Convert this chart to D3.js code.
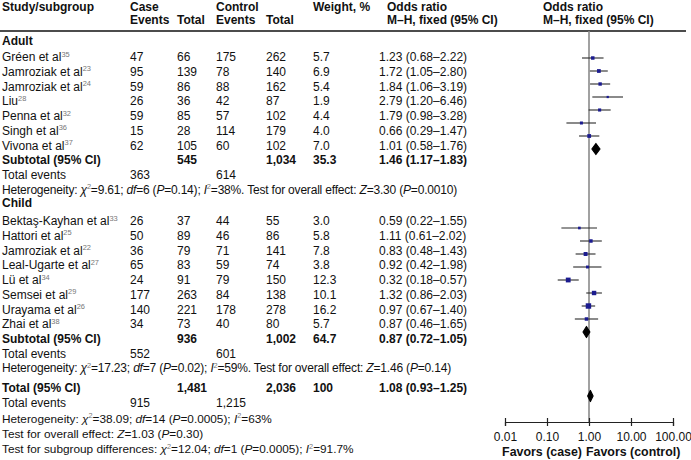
<!DOCTYPE html>
<html><head><meta charset="utf-8">
<script src="https://cdn.jsdelivr.net/npm/d3@7"></script>
<style>
html,body{margin:0;padding:0;background:#fff;}
svg{display:block;font-family:"Liberation Sans",Arial,sans-serif;}
</style></head>
<body><svg id="c" width="691" height="460"></svg>
<script>
// ---------- data ----------
const adultStudies = ["Gréen et al", "Jamroziak et al", "Jamroziak et al", "Liu", "Penna et al", "Singh et al", "Vivona et al"];
const adultRefs = ["35", "23", "24", "28", "32", "36", "37"];
const adultCaseEvents = [47, 95, 59, 26, 59, 15, 62];
const adultCaseTotal = [66, 139, 86, 36, 85, 28, 105];
const adultCtrlEvents = [175, 78, 88, 42, 57, 114, 60];
const adultCtrlTotal = [262, 140, 162, 87, 102, 179, 102];
const adultWeight = [5.7, 6.9, 5.4, 1.9, 4.4, 4.0, 7.0];
const adultOR = [1.23, 1.72, 1.84, 2.79, 1.79, 0.66, 1.01];
const adultLo = [0.68, 1.05, 1.06, 1.20, 0.98, 0.29, 0.58];
const adultHi = [2.22, 2.80, 3.19, 6.46, 3.28, 1.47, 1.76];

const childStudies = ["Bektaş-Kayhan et al", "Hattori et al", "Jamroziak et al", "Leal-Ugarte et al", "Lü et al", "Semsei et al", "Urayama et al", "Zhai et al"];
const childRefs = ["33", "25", "22", "27", "34", "29", "26", "38"];
const childCaseEvents = [26, 50, 36, 65, 24, 177, 140, 34];
const childCaseTotal = [37, 89, 79, 83, 91, 263, 221, 73];
const childCtrlEvents = [44, 46, 71, 59, 79, 84, 178, 40];
const childCtrlTotal = [55, 86, 141, 74, 150, 138, 278, 80];
const childWeight = [3.0, 5.8, 7.8, 3.8, 12.3, 10.1, 16.2, 5.7];
const childOR = [0.59, 1.11, 0.83, 0.92, 0.32, 1.32, 0.97, 0.87];
const childLo = [0.22, 0.61, 0.48, 0.42, 0.18, 0.86, 0.67, 0.46];
const childHi = [1.55, 2.02, 1.43, 1.98, 0.57, 2.03, 1.40, 1.65];

const subtotalLabels = ["Subtotal (95% CI)", "Subtotal (95% CI)", "Total (95% CI)"];
const pooledCaseTotal = ["545", "936", "1,481"];
const pooledCtrlTotal = ["1,034", "1,002", "2,036"];
const pooledWeight = ["35.3", "64.7", "100"];
const pooledOR = [1.46, 0.87, 1.08];
const pooledLo = [1.17, 0.72, 0.93];
const pooledHi = [1.83, 1.05, 1.25];
const pooledCaseEvents = ["363", "552", "915"];
const pooledCtrlEvents = ["614", "601", "1,215"];

const hetAdult = "Heterogeneity: _χ_^2^=9.61; _df_=6 (_P_=0.14); _I_^2^=38%. Test for overall effect: _Z_=3.30 (_P_=0.0010)";
const hetChild = "Heterogeneity: _χ_^2^=17.23; _df_=7 (_P_=0.02); _I_^2^=59%. Test for overall effect: _Z_=1.46 (_P_=0.14)";
const footLines = [
  "Heterogeneity: _χ_^2^=38.09; _df_=14 (_P_=0.0005); _I_^2^=63%",
  "Test for overall effect: _Z_=1.03 (_P_=0.30)",
  "Test for subgroup differences: _χ_^2^=12.04; _df_=1 (_P_=0.0005); _I_^2^=91.7%"
];
const axisTicks = [0.01, 0.1, 1, 10, 100];
const axisTickLabels = ["0.01", "0.10", "1.00", "10.00", "100.00"];

// ---------- layout ----------
const svg = d3.select("#c");
const FS = 12;
const col = {name: 2, ce: 130, ct: 177, ke: 216, kt: 266, w: 313, or: 379};
const x = d3.scaleLog().domain([0.01, 100]).range([505, 673]);
const fmt = v => v.toFixed(2);

const rowStep = 14.7;

function addRich(sel, str, size) {
  const parts = str.split(/(_[^_]+_|\^[^^]+\^)/).filter(s => s.length);
  let pendingDy = 0;
  const sh = size * 0.38;
  parts.forEach(p => {
    const t = sel.append("tspan");
    if (p[0] === "_") {
      t.text(p.slice(1, -1)).attr("font-style", "italic");
      if (pendingDy) { t.attr("dy", pendingDy); pendingDy = 0; }
    } else if (p[0] === "^") {
      t.text(p.slice(1, -1)).attr("font-size", size * 0.62).attr("dy", -sh).attr("fill", "#777");
      pendingDy = sh;
    } else {
      t.text(p);
      if (pendingDy) { t.attr("dy", pendingDy); pendingDy = 0; }
    }
  });
}

function txt(xp, yc, s, opts = {}) {
  const size = opts.size || FS;
  const t = svg.append("text").attr("x", xp).attr("y", yc + size * 0.36)
    .attr("font-size", size).attr("fill", "#111");
  if (opts.bold) t.attr("font-weight", "bold");
  if (opts.anchor) t.attr("text-anchor", opts.anchor);
  addRich(t, s, size);
  if (opts.width) {
    const nat = t.node().getComputedTextLength();
    const n = t.text().length;
    if (nat > 0 && n > 1) t.attr("letter-spacing", ((opts.width - nat) / n).toFixed(3));
  }
  return t;
}

// header
txt(col.name, 7, "Study/subgroup", {bold: true});
txt(col.ce, 7, "Case", {bold: true});
txt(col.ce, 20, "Events", {bold: true});
txt(col.ct, 20, "Total", {bold: true});
txt(col.ke, 7, "Control", {bold: true});
txt(col.ke, 20, "Events", {bold: true});
txt(col.kt, 20, "Total", {bold: true});
txt(col.w, 7, "Weight, %", {bold: true});
txt(387, 7, "Odds ratio", {bold: true});
txt(387, 20, "M–H, fixed (95% CI)", {bold: true});
txt(543, 7, "Odds ratio", {bold: true});
txt(543, 20, "M–H, fixed (95% CI)", {bold: true});
svg.append("line").attr("x1", 0).attr("x2", 686).attr("y1", 31).attr("y2", 31)
  .attr("stroke", "#111").attr("stroke-width", 1.3);

svg.append("line").attr("x1", x(1)).attr("x2", x(1)).attr("y1", 31).attr("y2", 422)
  .attr("stroke", "#8a8a8a").attr("stroke-width", 1.6);

const plotStep = 13;
const plotAdultY = i => 58 + i * plotStep;
const plotChildY = i => 228 + i * plotStep;
const plotTotalY = 396;

function studyBlock(startY, names, refs, ce, ct, ke, kt, w, or, lo, hi, plotY) {
  names.forEach((n, i) => {
    const y = startY + i * rowStep;
    txt(col.name, y, n + "^" + refs[i] + "^");
    txt(col.ce, y, String(ce[i]));
    txt(col.ct, y, String(ct[i]));
    txt(col.ke, y, String(ke[i]));
    txt(col.kt, y, String(kt[i]));
    txt(col.w, y, w[i].toFixed(1));
    txt(col.or, y, `${fmt(or[i])} (${fmt(lo[i])}–${fmt(hi[i])})`);
    const py = plotY(i);
    svg.append("line").attr("x1", x(lo[i])).attr("x2", x(hi[i])).attr("y1", py).attr("y2", py)
      .attr("stroke", "#2a2a2a").attr("stroke-width", 1.1);
    const s = 1.2 * Math.sqrt(w[i]) + 0.6;
    svg.append("rect").attr("x", x(or[i]) - s / 2).attr("y", py - s / 2)
      .attr("width", s).attr("height", s).attr("fill", "#1b1b8f");
  });
}

function pooledBlock(k, y, py, hetStr, hetWidth) {
  txt(col.name, y, subtotalLabels[k], {bold: true});
  txt(col.ct, y, pooledCaseTotal[k], {bold: true});
  txt(col.kt, y, pooledCtrlTotal[k], {bold: true});
  txt(col.w, y, pooledWeight[k], {bold: true});
  txt(col.or, y, `${fmt(pooledOR[k])} (${fmt(pooledLo[k])}–${fmt(pooledHi[k])})`, {bold: true});
  const y2 = y + rowStep;
  txt(col.name, y2, "Total events");
  txt(col.ce, y2, pooledCaseEvents[k]);
  txt(col.ke, y2, pooledCtrlEvents[k]);
  if (hetStr) txt(col.name, y2 + rowStep, hetStr, {width: hetWidth});
  const h = 5.5;
  const d = `M${x(pooledLo[k])},${py} L${x(pooledOR[k])},${py - h} L${x(pooledHi[k])},${py} L${x(pooledOR[k])},${py + h} Z`;
  svg.append("path").attr("d", d).attr("fill", "#000").attr("stroke", "#000").attr("stroke-width", 1.2)
    .attr("stroke-linejoin", "round");
}

// Adult
txt(col.name, 41, "Adult", {bold: true});
studyBlock(57, adultStudies, adultRefs, adultCaseEvents, adultCaseTotal, adultCtrlEvents, adultCtrlTotal,
  adultWeight, adultOR, adultLo, adultHi, plotAdultY);
pooledBlock(0, 57 + 7 * rowStep, plotAdultY(7), hetAdult, 455);

// Child
txt(col.name, 203, "Child", {bold: true});
studyBlock(221, childStudies, childRefs, childCaseEvents, childCaseTotal, childCtrlEvents, childCtrlTotal,
  childWeight, childOR, childLo, childHi, plotChildY);
pooledBlock(1, 221 + 8 * rowStep, plotChildY(8), hetChild, 449);

// Total
const totalY = 388;
pooledBlock(2, totalY, plotTotalY, null);
footLines.forEach((s, i) => txt(col.name, totalY + (2 + i) * 15.2, s, {size: 11.8}));

// axis
const axisY = 422;
const ax = svg.append("g").attr("transform", `translate(0,${axisY})`)
  .call(d3.axisBottom(x).tickValues(axisTicks).tickFormat((d, i) => axisTickLabels[i]).tickSizeOuter(0).tickSize(4));
ax.select(".domain").attr("stroke", "#222").attr("stroke-width", 1.2);
ax.selectAll(".tick line").attr("stroke", "#222").attr("y1", -4).attr("y2", 4).attr("stroke-width", 1.2);
ax.selectAll(".tick text").attr("font-size", FS).attr("fill", "#111")
  .attr("font-family", "'Liberation Sans',Arial,sans-serif").attr("dy", "0.71em").attr("y", 10);
txt(x(1) - 7, 452, "Favors (case)", {bold: true, anchor: "end", size: 12.4});
txt(x(1) - 3, 452, "Favors (control)", {bold: true, size: 12.4});
</script></body></html>
